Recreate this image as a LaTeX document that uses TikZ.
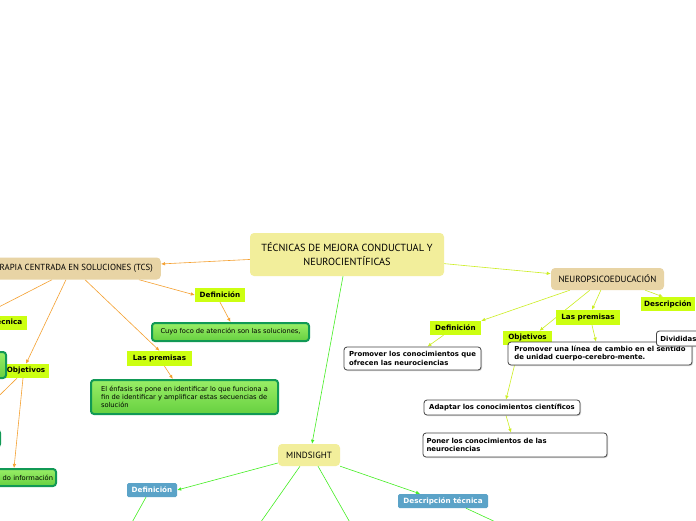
\documentclass[tikz,border=0pt]{standalone}
\usepackage{fontspec}
\setmainfont{DejaVu Sans}
\newfontfamily\topicfont{PT Sans}
\usetikzlibrary{arrows.meta, shadows, backgrounds}

\definecolor{topicyellow}{HTML}{F2EE9B}
\definecolor{topictan}{HTML}{E8D4A5}
\definecolor{taglime}{HTML}{CCFF11}
\definecolor{tagblue}{HTML}{5BA3C8}
\definecolor{boxgreen}{HTML}{119955}
\definecolor{fillgreentop}{HTML}{99EE66}
\definecolor{fillgreenbot}{HTML}{66D040}
\definecolor{noteborder}{HTML}{444444}
\definecolor{linkorange}{HTML}{F5A030}
\definecolor{linklime}{HTML}{CCEE22}
\definecolor{linkgreen}{HTML}{44EE22}

\begin{document}
\begin{tikzpicture}[
    x=1pt, y=-1pt,
    topic/.style={rectangle, rounded corners=4pt, fill=topicyellow, align=center, inner sep=2pt,
        font=\topicfont\fontsize{10.3}{14}\selectfont},
    subtopic/.style={topic, fill=topictan, minimum height=22pt, font=\topicfont\fontsize{9}{10}\selectfont},
    tag/.style={rectangle, fill=taglime, minimum height=14pt, inner xsep=3pt, inner ysep=0pt,
        font=\bfseries\fontsize{7.2}{8}\selectfont},
    bluetag/.style={tag, fill=tagblue, text=white, rounded corners=1.5pt},
    greenbox/.style={rectangle, rounded corners=3pt, draw=boxgreen, line width=2pt, align=left, inner sep=3pt,
        top color=fillgreentop, bottom color=fillgreenbot, font=\fontsize{6.7}{8.3}\selectfont},
    notebox/.style={rectangle, rounded corners=3pt, draw=noteborder, line width=0.8pt, fill=white, align=left,
        inner sep=3pt, font=\bfseries\fontsize{6.9}{8.6}\selectfont,
        drop shadow={shadow xshift=1pt, shadow yshift=-1pt, fill=black!35}},
    orangelink/.style={draw=linkorange, line width=0.6pt, -{Latex[length=4pt,width=3.5pt]}},
    limelink/.style={orangelink, draw=linklime},
    greenlink/.style={orangelink, draw=linkgreen}
]
\useasboundingbox (0,0) rectangle (696,520);

% Central topic
\node[topic, minimum width=194pt, minimum height=43pt] (central) at (347,254.5)
    {TÉCNICAS DE MEJORA CONDUCTUAL Y\\NEUROCIENTÍFICAS};

% Terapia centrada en soluciones
\node[subtopic, anchor=east, inner xsep=8pt, font=\topicfont\fontsize{8.8}{10}\selectfont] (tcs) at (161,268.5)
    {TERAPIA CENTRADA EN SOLUCIONES (TCS)};
\node[tag, minimum width=50pt] (tcsdef) at (220,295) {Definición};
\node[greenbox, minimum width=157pt, minimum height=18pt] (tcsdefbox) at (230.5,332)
    {Cuyo foco de atención son las soluciones,};
\node[tag, minimum width=65pt, minimum height=15pt] (tcspre) at (159.5,358.5) {Las premisas};
\node[greenbox, minimum width=187pt, minimum height=34pt] (tcsprebox) at (184.5,397)
    {El énfasis se pone en identificar lo que funciona a\\fin de identificar y amplificar estas secuencias de\\solución};
\node[tag, anchor=east, inner xsep=4.5pt] (tcsdesc) at (27,322.5) {Descripción técnica};
\node[tag, minimum width=46pt] (tcsobj) at (26,371) {Objetivos};
\node[greenbox, anchor=east, minimum width=70pt, minimum height=26pt] (tcsdescbox) at (7,365) {};
\node[greenbox, anchor=east, minimum width=70pt, minimum height=17pt] (tcsobjbox2) at (1,438.5) {};
\node[greenbox, anchor=east, minimum height=17pt, text width=70pt, align=right] (tcsobjbox3) at (57,477.5)
    {do información};

% Neuropsicoeducacion
\node[subtopic, minimum width=113pt] (neuro) at (607.5,279) {NEUROPSICOEDUCACIÓN};
\node[tag, anchor=west] (neudesc) at (641,304) {Descripción};
\node[tag, minimum width=51pt] (neudef) at (455.5,328) {Definición};
\node[notebox, minimum width=137pt, minimum height=23pt] (neudefbox) at (412.5,358.5)
    {Promover los conocimientos que\\ofrecen las neurociencias};
\node[tag, minimum width=64pt, minimum height=15pt] (neupre) at (588,317.5) {Las premisas};
\node[tag, minimum width=49pt] (neuobj) at (527.5,338) {Objetivos};
\node[notebox, minimum width=184pt, minimum height=23pt] (neuprebox) at (600,353.5)
    {Promover una línea de cambio en el sentido\\de unidad cuerpo-cerebro-mente.};
\node[notebox, anchor=west, inner xsep=4pt, minimum height=15pt] (neudiv) at (656,338.5) {Divididas};
\node[notebox, minimum width=156pt, minimum height=15pt] (neuobjbox1) at (502,407.5)
    {Adaptar los conocimientos científicos};
\node[notebox, minimum width=184pt, minimum height=24pt, text width=177pt] (neuobjbox2) at (515,445)
    {Poner los conocimientos de las\\neurociencias};

% Mindsight
\node[topic, minimum width=62pt, minimum height=22pt, font=\topicfont\fontsize{9}{10}\selectfont] (mind) at (309,455) {MINDSIGHT};
\node[bluetag, minimum width=50pt] (minddef) at (152,490) {Definición};
\node[bluetag, minimum width=90pt] (minddesc) at (443,501) {Descripción técnica};
\coordinate (minddefoff) at (130,526);
\coordinate (mindoffa) at (258,526);
\coordinate (mindoffb) at (352,526);
\coordinate (minddescoff) at (500,524);

% Connectors
\begin{scope}[on background layer]
\fill[white] (0,0) rectangle (696,520);
\draw[orangelink] (central) -- (tcs);
\draw[orangelink] ([xshift=-22pt]tcs.south east) -- (tcsdef.west);
\draw[orangelink] (tcsdef.south) -- (tcsdefbox.north);
\draw[orangelink] ([xshift=-76pt]tcs.south east) -- (tcspre.north);
\draw[orangelink] (tcspre) -- (tcsprebox);
\draw[orangelink] ([xshift=-109pt]tcs.south east) -- (tcsdesc.north);
\draw[orangelink] ([xshift=-95pt]tcs.south east) -- (tcsobj.north);
\draw[orangelink] ([xshift=-3pt]tcsobj.south) -- ([xshift=-43pt]tcsobjbox3.north east);
\draw[orangelink] ([xshift=-9pt]tcsobj.south) -- (tcsobjbox2.north);

\draw[limelink] (central) -- (neuro);
\draw[limelink] ([xshift=-19pt]neuro.south east) -- ([xshift=22pt]neudesc.north west);
\draw[limelink] ([xshift=19pt]neuro.south west) -- (neudef.north east);
\draw[limelink] ([xshift=50pt]neuro.south west) -- ([xshift=4pt]neupre.north);
\draw[limelink] ([xshift=39pt]neuro.south west) -- ([xshift=12pt]neuobj.north);
\draw[limelink] ([xshift=-12pt]neudef.south) -- ([xshift=15pt]neudefbox.north);
\draw[limelink] ([xshift=4pt]neupre.south) -- ([xshift=-4pt]neuprebox.north);
\draw[limelink] ([xshift=-8pt]neuobj.south) -- ([xshift=4pt]neuobjbox1.north);
\draw[limelink] ([xshift=4pt]neuobjbox1.south) -- ([xshift=-4pt]neuobjbox2.north);

\draw[greenlink] ([xshift=-4pt]central.south) -- ([xshift=3pt]mind.north);
\draw[greenlink] ([yshift=-8pt]mind.west) -- (minddef.east);
\draw[greenlink] ([xshift=-6pt]minddef.south) -- (minddefoff);
\draw[greenlink] ([xshift=-9pt]mind.south) -- (mindoffa);
\draw[greenlink] ([xshift=9pt]mind.south) -- (mindoffb);
\draw[greenlink] (mind.south east) -- ([xshift=-23pt]minddesc.north);
\draw[greenlink] ([xshift=23pt]minddesc.south) -- (minddescoff);
\end{scope}

\end{tikzpicture}
\end{document}
